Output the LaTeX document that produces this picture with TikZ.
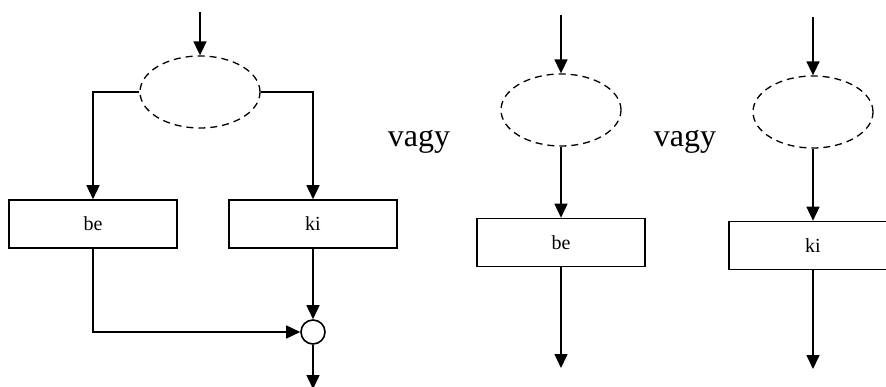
\documentclass[tikz,border=0pt]{standalone}
\usepackage{fontspec}
\setmainfont{Liberation Serif}
\usetikzlibrary{shapes.geometric,arrows.meta}

\tikzset{
  every node/.style={draw, line width=1.6pt, inner sep=0pt},
  cond/.style={ellipse, dash pattern=on 7pt off 5pt, line width=1.3pt,
    minimum width=120pt, minimum height=72pt},
  block/.style={rectangle, minimum width=168pt, minimum height=48pt,
    font=\fontsize{20}{24}\selectfont},
  joint/.style={circle, minimum size=24pt},
  word/.style={draw=none, anchor=base, font=\fontsize{32}{38}\selectfont},
  flow/.style={line width=1.6pt, -{Triangle[length=14pt, width=13pt]}}
}

\begin{document}
\begin{tikzpicture}[x=1pt, y=-1pt]
  \clip (0,0) rectangle (886,387);
  % both branches, joined again below
  \coordinate (s1) at (200,12);
  \node[cond] (e1) at (200,92) {};
  \node[block] (be1) at (93,224) {be};
  \node[block] (ki1) at (313,224) {ki};
  \node[joint] (j1) at (313,332) {};
  \coordinate (o1) at (313,389);
  \draw[flow] (s1) -- (e1.north);
  \draw[flow] (e1.west) -| (be1.north);
  \draw[flow] (e1.east) -| (ki1.north);
  \draw[flow] (be1.south) |- (j1.west);
  \draw[flow] (ki1.south) -- (j1.north);
  \draw[flow] (j1.south) -- (o1);

  \node[word] (or1) at (419,147) {vagy};

  % only the be branch
  \coordinate (s2) at (561,15);
  \node[cond] (e2) at (561,110) {};
  \node[block] (be2) at (561,242.5) {be};
  \coordinate (o2) at (561,368);
  \draw[flow] (s2) -- (e2.north);
  \draw[flow] (e2.south) -- (be2.north);
  \draw[flow] (be2.south) -- (o2);

  \node[word] (or2) at (685,147) {vagy};

  % only the ki branch
  \coordinate (s3) at (813,17);
  \node[cond] (e3) at (813,112) {};
  \node[block] (ki3) at (813,245.5) {ki};
  \coordinate (o3) at (813,369);
  \draw[flow] (s3) -- (e3.north);
  \draw[flow] (e3.south) -- (ki3.north);
  \draw[flow] (ki3.south) -- (o3);
\end{tikzpicture}
\end{document}
